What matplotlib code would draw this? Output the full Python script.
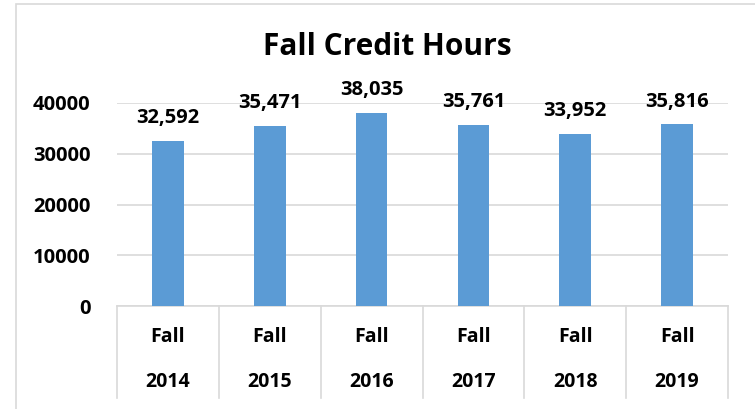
import matplotlib
matplotlib.use("Agg")
import matplotlib.pyplot as plt
from matplotlib.lines import Line2D
from matplotlib.patches import Rectangle

categories = ["Fall 2014", "Fall 2015", "Fall 2016", "Fall 2017", "Fall 2018", "Fall 2019"]
values = [32592, 35471, 38035, 35761, 33952, 35816]
yticks = [0, 10000, 20000, 30000, 40000]

plt.rcParams['font.family'] = ['Open Sans', 'DejaVu Sans']
plt.rcParams['font.weight'] = 'bold'

W, H = 755, 409
fig = plt.figure(figsize=(W/100, H/100), dpi=100)
fig.patches.append(Rectangle((16/W, -0.1), 1.2, 1 - 4/H + 0.1, transform=fig.transFigure,
                             fill=False, edgecolor='#d9d9d9', linewidth=1.2))

ax = fig.add_axes([117/W, 1 - 306/H, (728-117)/W, (306-103)/H])
x = list(range(len(categories)))
bars = ax.bar(x, values, width=0.31, color='#5B9BD5', zorder=3)
ax.set_xlim(-0.5, len(categories) - 0.5)
ax.set_ylim(0, 40000)
ax.set_yticks(yticks)
ax.set_yticklabels([str(t) for t in yticks], fontsize=14.5, fontweight='bold')
ax.tick_params(axis='y', length=0, pad=19)
ax.set_xticks([])
ax.grid(axis='y', color='#d9d9d9', linewidth=1.2, zorder=0)
for s in ['top', 'right', 'left']:
    ax.spines[s].set_visible(False)
ax.spines['bottom'].set_color('#d9d9d9')
ax.spines['bottom'].set_linewidth(1.2)

for xi, v in zip(x, values):
    ax.annotate(f"{v:,}", (xi, v), xytext=(0, 9), textcoords='offset points',
                ha='center', va='bottom', fontsize=14.5, fontweight='bold')

trans = ax.get_xaxis_transform()
for i in range(len(categories) + 1):
    ax.add_line(Line2D([i - 0.5, i - 0.5], [0, -0.453], transform=trans,
                       color='#d9d9d9', linewidth=1.2, clip_on=False))
for xi, c in zip(x, categories):
    a, b = c.split(" ")
    ax.text(xi, -0.153, a, transform=trans, ha='center', va='center', fontsize=14, fontweight='bold')
    ax.text(xi, -0.374, b, transform=trans, ha='center', va='center', fontsize=14, fontweight='bold')

fig.text(387/W, 1 - 47/H, "Fall Credit Hours", ha='center', va='center',
         fontsize=21.5, fontweight='bold')

fig.savefig("out.png", dpi=100)
